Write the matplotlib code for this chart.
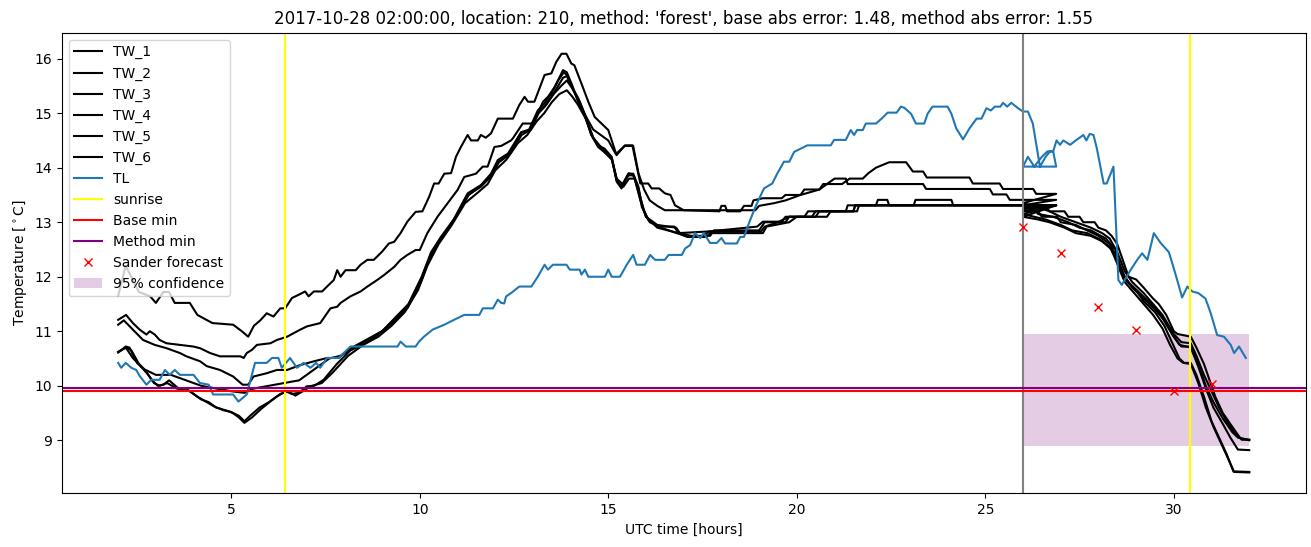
import matplotlib
matplotlib.use('Agg')
import matplotlib.pyplot as plt

# 觀測段 (2h -> 27h) 與預報段 (26h -> 32h)，每條線為 (時間, 溫度)
TW_1_OBS = [(2.0, 11.65), (2.2, 12.2), (2.55, 11.72), (2.85, 11.64), (3.0, 11.52), (3.2, 11.72), (3.35, 11.72),
            (3.5, 11.52), (3.9, 11.52), (4.1, 11.3), (4.5, 11.15), (5.05, 11.12), (5.28, 11.0), (5.45, 10.9),
            (5.6, 11.1), (5.77, 11.2), (5.94, 11.33), (6.12, 11.27), (6.3, 11.42), (6.43, 11.42), (6.61, 11.61),
            (6.79, 11.67), (6.96, 11.73), (7.05, 11.64), (7.19, 11.73), (7.41, 11.73), (7.54, 11.82), (7.72, 11.94),
            (7.81, 12.12), (7.9, 12.0), (8.03, 12.12), (8.3, 12.12), (8.43, 12.22), (8.61, 12.31), (8.78, 12.31),
            (9.0, 12.46), (9.18, 12.61), (9.32, 12.64), (9.49, 12.8), (9.67, 13.01), (9.89, 13.19), (10.07, 13.2),
            (10.25, 13.47), (10.38, 13.71), (10.5, 13.71), (10.65, 13.89), (10.83, 13.9), (10.96, 14.2),
            (11.09, 14.38), (11.27, 14.6), (11.36, 14.5), (11.54, 14.5), (11.62, 14.6), (11.75, 14.55),
            (11.89, 14.63), (12.07, 14.9), (12.47, 14.9), (12.64, 15.15), (12.78, 15.3), (12.87, 15.21),
            (13.04, 15.21), (13.31, 15.7), (13.49, 15.73), (13.62, 15.94), (13.76, 16.09), (13.89, 16.09),
            (14.02, 15.91), (14.1, 15.88), (14.29, 15.54), (14.47, 15.21), (14.64, 14.93), (14.82, 14.81),
            (15.0, 14.69), (15.22, 14.23), (15.44, 14.41), (15.64, 14.41), (15.85, 13.71), (16.06, 13.71),
            (16.15, 13.62), (16.35, 13.62), (16.5, 13.53), (16.65, 13.5), (16.77, 13.31), (17.0, 13.22),
            (17.95, 13.2), (18.0, 13.3), (18.1, 13.3), (18.15, 13.2), (18.5, 13.2), (18.6, 13.3), (18.8, 13.3),
            (18.85, 13.4), (19.1, 13.44), (19.6, 13.44), (19.7, 13.5), (20.1, 13.5), (20.2, 13.6), (20.6, 13.6),
            (20.7, 13.7), (21.2, 13.7), (21.4, 13.8), (21.75, 13.8), (21.9, 13.9), (22.1, 14.0), (22.45, 14.1),
            (22.9, 14.1), (23.08, 13.93), (23.35, 13.93), (23.45, 13.82), (24.58, 13.82), (24.67, 13.71),
            (25.38, 13.71), (25.47, 13.61), (26.27, 13.61), (26.35, 13.52), (26.88, 13.52)]
TW_1_FC = [(26.0, 13.35), (26.2, 13.31), (26.6, 13.31), (26.7, 13.2), (27.1, 13.2), (27.2, 13.1), (27.5, 13.1),
           (27.6, 13.0), (27.9, 13.0), (28.0, 12.9), (28.2, 12.85), (28.35, 12.75), (28.5, 12.6), (28.65, 12.3),
           (28.8, 12.0), (29.0, 11.95), (29.2, 11.8), (29.45, 11.6), (29.6, 11.5), (29.8, 11.3), (30.0, 11.0),
           (30.1, 10.95), (30.45, 10.9), (30.6, 10.7), (30.8, 10.4), (30.95, 10.1), (31.1, 9.8), (31.3, 9.5),
           (31.5, 9.3), (31.7, 9.1), (31.8, 9.01), (32.0, 9.01)]

TW_2_OBS = [(2.0, 11.21), (2.21, 11.3), (2.39, 11.15), (2.57, 11.03), (2.75, 10.94), (2.84, 11.0), (2.97, 10.94),
            (3.1, 10.84), (3.28, 10.78), (3.99, 10.72), (4.17, 10.69), (4.44, 10.6), (4.7, 10.54), (5.24, 10.54),
            (5.33, 10.51), (5.41, 10.6), (5.55, 10.66), (5.68, 10.75), (6.04, 10.78), (6.21, 10.84), (6.48, 10.9),
            (6.83, 11.03), (7.01, 11.09), (7.36, 11.15), (7.63, 11.42), (7.81, 11.45), (7.9, 11.52), (8.16, 11.64),
            (8.43, 11.73), (8.61, 11.82), (8.87, 11.94), (9.05, 12.03), (9.32, 12.18), (9.49, 12.31), (9.67, 12.4),
            (9.89, 12.49), (10.0, 12.49), (10.2, 12.8), (10.47, 13.1), (10.74, 13.35), (11.0, 13.59),
            (11.18, 13.83), (11.49, 13.89), (11.67, 14.02), (11.8, 14.02), (11.98, 14.38), (12.16, 14.4),
            (12.42, 14.5), (12.47, 14.54), (12.73, 14.81), (13.0, 14.81), (13.27, 15.21), (13.4, 15.3),
            (13.58, 15.48), (13.8, 15.79), (13.9, 15.75), (14.05, 15.5), (14.2, 15.2), (14.4, 14.95), (14.6, 14.7),
            (14.8, 14.6), (15.0, 14.5), (15.2, 14.25), (15.44, 14.4), (15.66, 14.4), (15.8, 13.9), (15.95, 13.6),
            (16.1, 13.4), (16.3, 13.3), (16.5, 13.22), (18.9, 13.22), (19.0, 13.3), (19.4, 13.35), (19.7, 13.4),
            (20.1, 13.5), (20.6, 13.6), (21.0, 13.8), (21.3, 13.8), (21.35, 13.7), (23.35, 13.7), (23.43, 13.61),
            (25.12, 13.61), (25.2, 13.51), (25.56, 13.51), (25.65, 13.41), (26.88, 13.41)]
TW_2_FC = [(26.0, 13.31), (26.5, 13.25), (26.7, 13.2), (27.0, 13.1), (27.4, 13.0), (27.8, 12.9), (28.1, 12.8),
           (28.3, 12.7), (28.5, 12.45), (28.7, 12.1), (28.9, 11.9), (29.2, 11.7), (29.45, 11.5), (29.7, 11.3),
           (30.0, 10.95), (30.2, 10.8), (30.45, 10.78), (30.6, 10.55), (30.8, 10.2), (31.0, 9.9), (31.2, 9.6),
           (31.4, 9.35), (31.6, 9.15), (31.75, 9.04), (32.0, 9.01)]

TW_3_OBS = [(2.0, 11.12), (2.15, 11.2), (2.39, 11.03), (2.66, 10.84), (2.97, 10.75), (3.28, 10.69), (3.64, 10.6),
            (3.81, 10.54), (4.17, 10.45), (4.35, 10.36), (4.7, 10.29), (5.05, 10.17), (5.3, 10.02), (5.45, 10.02),
            (5.59, 10.17), (5.94, 10.23), (6.21, 10.29), (6.48, 10.29), (6.83, 10.38), (7.2, 10.45), (7.54, 10.51),
            (7.85, 10.51), (8.0, 10.6), (8.3, 10.7), (8.6, 10.84), (9.0, 11.0), (9.35, 11.25), (9.7, 11.5),
            (10.05, 12.0), (10.3, 12.45), (10.56, 12.73), (10.9, 13.05), (11.27, 13.53), (11.62, 13.68),
            (11.89, 13.89), (12.07, 14.14), (12.34, 14.26), (12.69, 14.65), (12.9, 14.7), (13.13, 15.05),
            (13.31, 15.18), (13.49, 15.36), (13.67, 15.6), (13.82, 15.75), (13.9, 15.7), (14.05, 15.45),
            (14.2, 15.25), (14.38, 14.95), (14.55, 14.6), (14.73, 14.41), (14.9, 14.35), (15.09, 14.2),
            (15.22, 13.77), (15.35, 13.65), (15.53, 13.89), (15.66, 13.89), (15.8, 13.65), (15.89, 13.28),
            (16.06, 13.04), (16.33, 12.92), (16.75, 12.92), (16.86, 12.8), (17.66, 12.83), (18.95, 12.92),
            (19.1, 13.01), (19.6, 13.01), (19.7, 13.1), (20.2, 13.1), (20.3, 13.2), (21.3, 13.2), (21.35, 13.31),
            (22.1, 13.31), (22.15, 13.41), (22.4, 13.41), (22.45, 13.31), (26.88, 13.31)]
TW_3_FC = [(26.0, 13.2), (26.4, 13.2), (26.5, 13.1), (26.9, 13.1), (27.0, 13.0), (27.4, 12.95), (27.7, 12.85),
           (28.0, 12.75), (28.3, 12.6), (28.5, 12.35), (28.7, 12.0), (28.9, 11.8), (29.2, 11.6), (29.5, 11.4),
           (29.75, 11.2), (30.0, 10.9), (30.2, 10.72), (30.45, 10.72), (30.65, 10.4), (30.85, 10.0), (31.05, 9.7),
           (31.3, 9.4), (31.55, 9.15), (31.7, 9.05), (32.0, 9.0)]

TW_4_OBS = [(2.0, 10.62), (2.2, 10.7), (2.4, 10.5), (2.7, 10.3), (3.0, 10.2), (3.4, 10.2), (3.8, 10.1),
            (4.2, 10.0), (4.6, 9.95), (5.0, 9.9), (5.35, 9.87), (5.6, 9.95), (6.0, 10.0), (6.4, 10.05), (6.8, 10.1),
            (7.2, 10.3), (7.6, 10.5), (7.9, 10.55), (8.2, 10.7), (8.6, 10.85), (9.0, 11.0), (9.3, 11.2),
            (9.67, 11.45), (10.0, 11.9), (10.3, 12.4), (10.6, 12.73), (10.95, 13.1), (11.3, 13.5), (11.65, 13.68),
            (11.9, 13.85), (12.1, 14.1), (12.4, 14.26), (12.7, 14.6), (12.95, 14.7), (13.15, 15.0), (13.35, 15.15),
            (13.55, 15.35), (13.75, 15.5), (13.9, 15.6), (14.05, 15.45), (14.25, 15.2), (14.42, 14.9),
            (14.6, 14.55), (14.78, 14.4), (15.09, 14.15), (15.22, 13.8), (15.38, 13.7), (15.55, 13.9),
            (15.68, 13.85), (15.85, 13.4), (16.0, 13.1), (16.3, 12.95), (16.8, 12.9), (16.9, 12.8), (17.2, 12.75),
            (17.7, 12.75), (17.8, 12.85), (19.0, 12.85), (19.15, 13.0), (19.7, 13.0), (19.8, 13.1), (20.4, 13.1),
            (20.5, 13.2), (21.5, 13.2), (21.55, 13.31), (23.1, 13.31), (23.15, 13.41), (24.1, 13.41),
            (24.15, 13.31), (26.88, 13.31)]
TW_4_FC = [(26.0, 13.25), (26.3, 13.25), (26.4, 13.15), (26.8, 13.1), (27.2, 13.0), (27.5, 12.9), (27.8, 12.85),
           (28.2, 12.7), (28.45, 12.5), (28.6, 12.1), (28.8, 11.9), (29.1, 11.7), (29.4, 11.5), (29.65, 11.3),
           (29.95, 10.95), (30.15, 10.75), (30.45, 10.7), (30.65, 10.35), (30.85, 9.95), (31.05, 9.6),
           (31.3, 9.3), (31.5, 9.05), (31.7, 8.83), (32.0, 8.82)]

TW_5_OBS = [(2.0, 10.61), (2.2, 10.72), (2.3, 10.7), (2.5, 10.42), (2.75, 10.25), (2.9, 10.1), (3.05, 10.0),
            (3.2, 10.02), (3.35, 10.1), (3.6, 9.95), (3.8, 9.95), (4.0, 9.85), (4.2, 9.75), (4.4, 9.7), (4.6, 9.6),
            (4.85, 9.55), (5.05, 9.5), (5.2, 9.45), (5.35, 9.35), (5.5, 9.45), (5.75, 9.6), (6.0, 9.7), (6.2, 9.8),
            (6.45, 9.9), (6.6, 9.85), (6.8, 9.87), (7.0, 9.99), (7.2, 10.0), (7.45, 10.11), (7.8, 10.4),
            (8.16, 10.65), (8.6, 10.8), (8.96, 10.97), (9.32, 11.18), (9.67, 11.42), (10.03, 11.9), (10.29, 12.4),
            (10.56, 12.7), (10.91, 13.05), (11.27, 13.5), (11.62, 13.65), (11.89, 13.85), (12.07, 14.1),
            (12.34, 14.22), (12.69, 14.65), (12.9, 14.68), (13.13, 15.0), (13.31, 15.12), (13.49, 15.3),
            (13.67, 15.5), (13.8, 15.65), (13.9, 15.68), (14.02, 15.5), (14.2, 15.28), (14.38, 14.97),
            (14.55, 14.6), (14.73, 14.38), (15.09, 14.18), (15.22, 13.75), (15.35, 13.62), (15.53, 13.86),
            (15.66, 13.86), (15.8, 13.62), (15.92, 13.25), (16.1, 13.0), (16.4, 12.9), (16.9, 12.78),
            (17.13, 12.73), (17.5, 12.73), (17.66, 12.83), (19.05, 12.83), (19.15, 12.92), (19.5, 13.0),
            (19.8, 13.1), (20.5, 13.1), (20.6, 13.2), (21.6, 13.2), (21.65, 13.31), (26.88, 13.31)]
TW_5_FC = [(26.0, 13.15), (26.3, 13.1), (26.6, 13.05), (27.0, 12.95), (27.3, 12.85), (27.7, 12.8), (28.0, 12.7),
           (28.3, 12.55), (28.55, 12.2), (28.7, 11.95), (29.0, 11.75), (29.2, 11.55), (29.5, 11.35),
           (29.75, 11.1), (29.95, 10.8), (30.15, 10.5), (30.27, 10.42), (30.45, 10.42), (30.6, 10.2),
           (30.8, 9.8), (31.0, 9.35), (31.2, 9.05), (31.4, 8.75), (31.58, 8.43), (32.0, 8.42)]

TW_6_OBS = [(2.0, 10.62), (2.2, 10.7), (2.35, 10.65), (2.55, 10.4), (2.8, 10.2), (2.95, 10.05), (3.1, 10.0),
            (3.3, 10.05), (3.55, 9.95), (3.9, 9.9), (4.1, 9.8), (4.3, 9.72), (4.55, 9.62), (4.8, 9.55), (5.0, 9.52),
            (5.2, 9.42), (5.35, 9.32), (5.55, 9.42), (5.8, 9.58), (6.05, 9.72), (6.3, 9.85), (6.5, 9.9),
            (6.7, 9.82), (6.9, 9.9), (7.1, 9.99), (7.4, 10.05), (7.7, 10.25), (8.1, 10.55), (8.5, 10.75),
            (8.9, 10.9), (9.25, 11.1), (9.6, 11.35), (9.95, 11.75), (10.2, 12.2), (10.5, 12.6), (10.85, 12.95),
            (11.2, 13.35), (11.55, 13.55), (11.8, 13.7), (12.0, 13.95), (12.3, 14.15), (12.6, 14.45),
            (12.85, 14.6), (13.1, 14.85), (13.3, 15.0), (13.5, 15.2), (13.7, 15.35), (13.9, 15.42), (14.05, 15.3),
            (14.2, 15.15), (14.4, 14.9), (14.6, 14.55), (14.8, 14.35), (15.1, 14.15), (15.25, 13.72),
            (15.4, 13.65), (15.55, 13.8), (15.7, 13.8), (15.85, 13.45), (16.0, 13.1), (16.3, 12.9), (16.86, 12.8),
            (17.1, 12.73), (17.6, 12.73), (17.7, 12.8), (19.1, 12.8), (19.2, 12.92), (19.8, 13.0), (20.0, 13.1),
            (20.8, 13.1), (20.9, 13.2), (21.5, 13.2), (21.55, 13.31), (26.88, 13.31)]
TW_6_FC = [(26.0, 13.1), (26.4, 13.05), (26.7, 13.0), (27.1, 12.9), (27.4, 12.8), (27.8, 12.75), (28.1, 12.65),
           (28.35, 12.5), (28.55, 12.15), (28.7, 11.9), (28.95, 11.7), (29.2, 11.5), (29.45, 11.3),
           (29.7, 11.05), (29.9, 10.75), (30.1, 10.5), (30.25, 10.42), (30.45, 10.4), (30.65, 10.05),
           (30.85, 9.6), (31.05, 9.25), (31.25, 8.95), (31.45, 8.65), (31.6, 8.42), (32.0, 8.41)]

TL_OBS = [(2.0, 10.42), (2.08, 10.33), (2.2, 10.42), (2.35, 10.33), (2.48, 10.29), (2.57, 10.18), (2.75, 10.02),
          (2.88, 10.11), (3.1, 10.11), (3.24, 10.29), (3.37, 10.2), (3.5, 10.29), (3.64, 10.2), (4.0, 10.2),
          (4.17, 10.05), (4.4, 10.02), (4.52, 9.84), (5.05, 9.84), (5.19, 9.71), (5.41, 9.84), (5.63, 10.42),
          (5.94, 10.42), (6.08, 10.51), (6.25, 10.51), (6.34, 10.33), (6.45, 10.42), (6.56, 10.51), (6.74, 10.33),
          (6.92, 10.42), (7.1, 10.33), (7.25, 10.42), (7.36, 10.33), (7.54, 10.51), (7.85, 10.51), (7.98, 10.6),
          (8.16, 10.72), (9.41, 10.72), (9.49, 10.81), (9.63, 10.72), (9.89, 10.72), (9.98, 10.81),
          (10.11, 10.9), (10.34, 11.03), (10.65, 11.12), (10.91, 11.21), (11.18, 11.3), (11.58, 11.3),
          (11.67, 11.42), (11.94, 11.42), (12.07, 11.58), (12.16, 11.52), (12.24, 11.51), (12.29, 11.64),
          (12.42, 11.7), (12.64, 11.82), (12.96, 11.82), (13.13, 12.0), (13.31, 12.22), (13.4, 12.13),
          (13.53, 12.22), (13.89, 12.22), (13.98, 12.13), (14.24, 12.13), (14.29, 12.04), (14.38, 12.13),
          (14.47, 12.0), (14.91, 12.0), (15.0, 12.13), (15.09, 12.0), (15.31, 12.0), (15.49, 12.22),
          (15.66, 12.4), (15.75, 12.22), (15.97, 12.22), (16.11, 12.4), (16.24, 12.31), (16.5, 12.31),
          (16.6, 12.4), (16.95, 12.4), (17.04, 12.52), (17.17, 12.58), (17.3, 12.8), (17.44, 12.71),
          (17.53, 12.8), (17.7, 12.62), (17.88, 12.62), (18.0, 12.71), (18.1, 12.61), (18.41, 12.61),
          (18.5, 12.73), (18.6, 12.73), (18.73, 12.98), (18.9, 13.28), (19.13, 13.62), (19.35, 13.71),
          (19.48, 13.89), (19.66, 14.11), (19.8, 14.11), (19.93, 14.29), (20.28, 14.41), (20.9, 14.41),
          (20.99, 14.51), (21.3, 14.51), (21.43, 14.69), (21.52, 14.6), (21.6, 14.69), (21.75, 14.69),
          (21.83, 14.81), (22.1, 14.81), (22.25, 14.9), (22.41, 15.01), (22.65, 15.01), (22.76, 15.12),
          (22.85, 15.1), (23.03, 14.99), (23.16, 14.81), (23.38, 14.81), (23.47, 14.99), (23.6, 15.12),
          (24.0, 15.12), (24.1, 14.99), (24.23, 14.72), (24.41, 14.52), (24.58, 14.72), (24.77, 14.9),
          (24.9, 14.9), (25.03, 15.09), (25.15, 15.05), (25.25, 15.12), (25.4, 15.12), (25.47, 15.19),
          (25.58, 15.12), (25.69, 15.19), (25.87, 15.09), (26.0, 15.03), (26.13, 15.03), (26.26, 14.81),
          (26.45, 14.02), (26.6, 14.2), (26.72, 14.3), (26.8, 14.3), (26.88, 14.02)]
TL_FC = [(26.0, 14.02), (26.13, 14.2), (26.3, 14.02), (26.5, 14.2), (26.65, 14.3), (26.8, 14.3), (26.89, 14.5),
         (26.98, 14.42), (27.07, 14.5), (27.25, 14.42), (27.4, 14.5), (27.6, 14.6), (27.68, 14.5), (27.77, 14.62),
         (27.87, 14.6), (27.96, 14.35), (28.14, 13.71), (28.22, 13.71), (28.4, 14.02), (28.53, 11.94),
         (28.62, 11.85), (28.85, 12.12), (29.03, 12.31), (29.16, 12.43), (29.3, 12.31), (29.47, 12.8),
         (29.65, 12.62), (29.87, 12.45), (30.04, 12.06), (30.22, 11.62), (30.36, 11.82), (30.49, 11.73),
         (30.65, 11.7), (30.84, 11.6), (30.98, 11.33), (31.15, 10.93), (31.33, 10.9), (31.51, 10.75),
         (31.6, 10.6), (31.73, 10.72), (31.91, 10.51)]

TW_SERIES = [TW_1_OBS + TW_1_FC, TW_2_OBS + TW_2_FC, TW_3_OBS + TW_3_FC,
             TW_4_OBS + TW_4_FC, TW_5_OBS + TW_5_FC, TW_6_OBS + TW_6_FC]

SUNRISE = [6.43, 30.44]
FORECAST_START = 26.0
BASE_MIN = 9.90
METHOD_MIN = 9.96
SANDER_T = [26, 27, 28, 29, 30, 31]
SANDER_V = [12.92, 12.43, 11.44, 11.03, 9.90, 10.03]
CONF_T = [26.0, 32.0]
CONF_LOW = 8.89
CONF_HIGH = 10.95

TITLE = "2017-10-28 02:00:00, location: 210, method: 'forest', base abs error: 1.48, method abs error: 1.55"


def xy(pairs):
    return [p[0] for p in pairs], [p[1] for p in pairs]


fig, ax = plt.subplots(figsize=(13.11, 5.47), dpi=100)
fig.subplots_adjust(left=0.047, right=0.996, bottom=0.098, top=0.94)

for i, series in enumerate(TW_SERIES):
    t, v = xy(series)
    ax.plot(t, v, color='black', label=f'TW_{i + 1}')

t, v = xy(TL_OBS + TL_FC)
ax.plot(t, v, color='C0', label='TL')

ax.axvline(SUNRISE[0], color='yellow', label='sunrise')
ax.axvline(SUNRISE[1], color='yellow')
ax.axvline(FORECAST_START, color='gray')
ax.axhline(BASE_MIN, color='red', label='Base min')
ax.axhline(METHOD_MIN, color='purple', label='Method min')
ax.plot(SANDER_T, SANDER_V, 'x', color='red', label='Sander forecast')
ax.fill_between(CONF_T, CONF_LOW, CONF_HIGH, color='purple', alpha=0.2, linewidth=0,
                label='95% confidence')

ax.set_title(TITLE)
ax.set_xlabel('UTC time [hours]')
ax.set_ylabel(r'Temperature [$^\circ$C]')
ax.legend(loc='upper left')

fig.savefig('out.png', dpi=100)
